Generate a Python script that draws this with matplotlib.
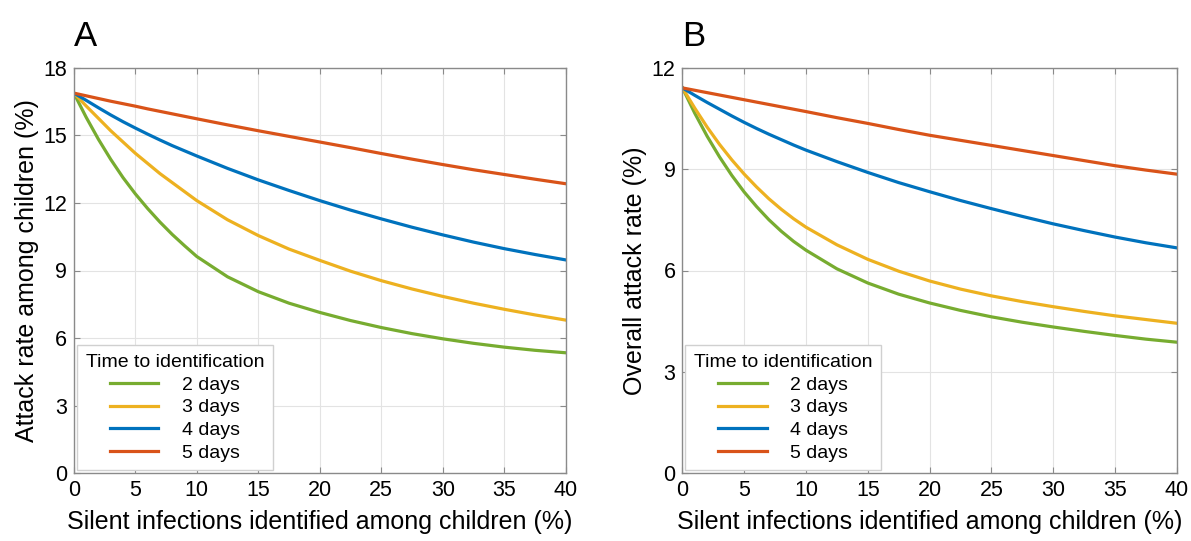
import matplotlib.pyplot as plt
import numpy as np

plt.rcParams['font.family'] = ['Liberation Sans', 'DejaVu Sans']

# silent infections identified among children (%)
x = [0, 1, 2, 3, 4, 5, 6, 7, 8, 9, 10, 12.5, 15, 17.5, 20, 22.5, 25, 27.5, 30, 32.5, 35, 37.5, 40]

# panel A: attack rate among children (%)
a_2d = [16.87, 15.8, 14.82, 13.93, 13.12, 12.4, 11.75, 11.15, 10.6, 10.1, 9.62, 8.72, 8.06, 7.55, 7.14, 6.78, 6.47, 6.2, 5.97, 5.77, 5.6, 5.46, 5.35]
a_3d = [16.87, 16.3, 15.75, 15.2, 14.7, 14.2, 13.75, 13.3, 12.9, 12.5, 12.1, 11.25, 10.55, 9.95, 9.45, 8.97, 8.55, 8.18, 7.85, 7.55, 7.28, 7.03, 6.8]
a_4d = [16.87, 16.55, 16.22, 15.9, 15.6, 15.32, 15.05, 14.79, 14.54, 14.31, 14.08, 13.53, 13.02, 12.55, 12.1, 11.68, 11.29, 10.92, 10.58, 10.26, 9.97, 9.71, 9.47]
a_5d = [16.87, 16.75, 16.63, 16.51, 16.4, 16.29, 16.17, 16.06, 15.95, 15.84, 15.73, 15.46, 15.2, 14.95, 14.7, 14.45, 14.19, 13.94, 13.7, 13.47, 13.26, 13.05, 12.85]

# panel B: overall attack rate (%)
b_2d = [11.4, 10.65, 9.97, 9.36, 8.81, 8.32, 7.89, 7.5, 7.16, 6.86, 6.6, 6.05, 5.63, 5.3, 5.04, 4.82, 4.63, 4.47, 4.33, 4.2, 4.08, 3.97, 3.88]
b_3d = [11.4, 10.8, 10.24, 9.73, 9.27, 8.85, 8.47, 8.12, 7.81, 7.53, 7.28, 6.76, 6.33, 5.98, 5.69, 5.45, 5.25, 5.08, 4.93, 4.79, 4.66, 4.55, 4.44]
b_4d = [11.4, 11.18, 10.97, 10.77, 10.57, 10.38, 10.2, 10.03, 9.87, 9.71, 9.56, 9.22, 8.9, 8.6, 8.33, 8.07, 7.83, 7.6, 7.38, 7.18, 6.99, 6.82, 6.67]
b_5d = [11.4, 11.33, 11.26, 11.19, 11.12, 11.05, 10.98, 10.91, 10.84, 10.77, 10.7, 10.52, 10.35, 10.17, 10.0, 9.85, 9.7, 9.55, 9.4, 9.25, 9.1, 8.97, 8.85]

labels = ['2 days', '3 days', '4 days', '5 days']
colors = ['#77AC30', '#EDB120', '#0072BD', '#D95319']

fig = plt.figure(figsize=(11.91, 5.41), dpi=100)
axA = fig.add_axes([0.062, 0.125, 0.413, 0.75])
axB = fig.add_axes([0.573, 0.125, 0.415, 0.75])

panels = [
    (axA, [a_2d, a_3d, a_4d, a_5d], 18, np.arange(0, 19, 3), 'Attack rate among children (%)', 'A'),
    (axB, [b_2d, b_3d, b_4d, b_5d], 12, np.arange(0, 13, 3), 'Overall attack rate (%)', 'B'),
]

for ax, series, ymax, yt, ylab, letter in panels:
    for s, c, l in zip(series, colors, labels):
        ax.plot(x, s, color=c, lw=2.3, label=l)
    ax.set_xlim(0, 40)
    ax.set_ylim(0, ymax)
    ax.set_xticks(np.arange(0, 41, 5))
    ax.set_yticks(yt)
    ax.grid(True, color='#e3e3e3', lw=0.8)
    ax.set_axisbelow(True)
    for sp in ax.spines.values():
        sp.set_color('#8a8a8a')
        sp.set_linewidth(1.0)
    ax.tick_params(direction='in', length=4, color='#8a8a8a', labelsize=15.5,
                   top=True, right=True, pad=5)
    ax.set_xlabel('Silent infections identified among children (%)', fontsize=18, labelpad=6)
    ax.set_ylabel(ylab, fontsize=18, labelpad=3)
    leg = ax.legend(loc='lower left', title='Time to identification', fontsize=14,
                    title_fontsize=14, handlelength=2.5, handletextpad=1.2,
                    borderaxespad=0.15, labelspacing=0.26, fancybox=False,
                    framealpha=1, edgecolor='#d0d0d0', borderpad=0.45)
    ax.text(0.0, 1.035, letter, transform=ax.transAxes, fontsize=25, va='bottom', ha='left')

fig.savefig('out.png', dpi=100)
